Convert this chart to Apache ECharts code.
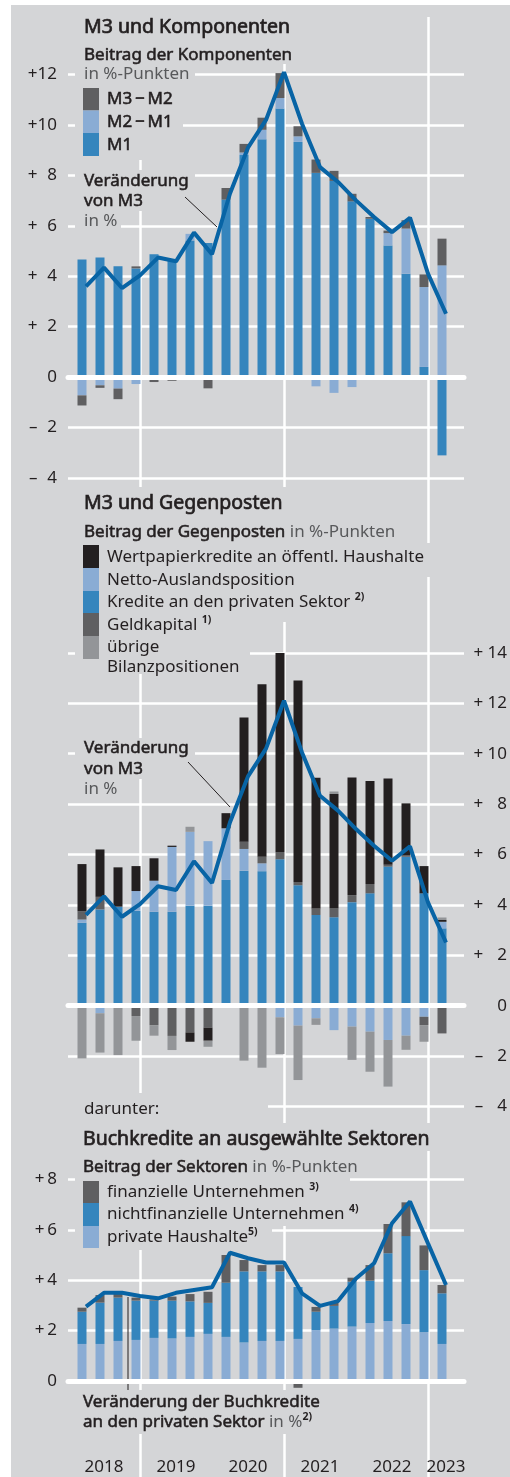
<!DOCTYPE html>
<html><head><meta charset="utf-8">
<script src="https://cdn.jsdelivr.net/npm/echarts@6/dist/echarts.min.js"></script>
<style>
html,body{margin:0;padding:0;background:#fff;}
#bg{position:absolute;left:11px;top:5px;width:499px;height:1472px;background:#d4d5d7;}
#chart{position:absolute;left:0;top:0;width:510px;height:1477px;}
</style></head><body>
<div id="bg"></div><div id="chart"></div>
<script>
// ---------- data (quarterly, 2018 Q1 .. 2023 Q1) ----------
const quarters = ['2018 Q1','2018 Q2','2018 Q3','2018 Q4','2019 Q1','2019 Q2','2019 Q3','2019 Q4',
  '2020 Q1','2020 Q2','2020 Q3','2020 Q4','2021 Q1','2021 Q2','2021 Q3','2021 Q4',
  '2022 Q1','2022 Q2','2022 Q3','2022 Q4','2023 Q1'];
const years = ['2018','2019','2020','2021','2022','2023'];

// Panel 1: M3 und Komponenten
const m1   = [4.66,4.74,4.39,4.31,4.87,4.63,5.42,5.32,7.04,8.81,9.43,10.65,9.33,8.10,7.78,6.97,6.28,5.22,4.10,0.40,-3.11];
const m2m1 = [-0.73,-0.33,-0.46,-0.28,-0.05,0,0.26,0,0,0.10,0.38,0.42,0.22,-0.37,-0.63,-0.40,0,0.49,1.79,3.17,4.43];
const m3m2 = [-0.40,-0.10,-0.42,0.08,-0.15,-0.15,0,-0.45,0.46,0.34,0.48,0.99,0.40,0.53,0.40,0.30,0.07,0.10,0.33,0.50,1.06];
const m3   = [3.60,4.34,3.53,4.03,4.74,4.59,5.73,4.87,7.28,9.10,10.20,12.10,10.05,8.33,7.74,7.01,6.35,5.75,6.32,4.10,2.51];

// Panel 2: M3 und Gegenposten
const kredite     = [3.29,3.82,3.93,3.77,3.73,3.73,3.97,3.97,4.99,5.36,5.34,5.81,4.78,3.60,3.51,4.11,4.46,5.52,5.91,4.46,3.07];
const netto       = [0.13,-0.30,0,0.78,1.23,2.57,2.93,2.56,2.05,0.86,0.31,-0.46,-0.79,-0.50,-0.97,-0.83,-1.03,-1.36,-1.19,-0.44,0.26];
const geldkapital = [0.33,0.50,0,-0.41,-0.77,-1.20,-1.06,-0.87,0,0.29,0.26,0.29,0.13,0.26,0.36,0.28,0.37,0.07,0.07,-0.33,-1.10];
const wertpapier  = [1.87,1.88,1.56,0.99,0.89,0.05,-0.37,-0.52,0.60,4.93,6.85,7.90,7.99,5.19,4.53,4.67,4.09,3.43,2.05,1.08,0.07];
const uebrige     = [-2.09,-1.56,-1.96,-0.98,-0.42,-0.56,0.20,-0.24,-0.05,-2.18,-2.46,-1.46,-2.16,-0.26,0.10,-1.32,-1.59,-1.85,-0.56,-0.66,0.10];

// Panel 3: Buchkredite an ausgewählte Sektoren
const haushalte   = [1.47,1.47,1.59,1.63,1.71,1.69,1.75,1.87,1.75,1.53,1.59,1.59,1.67,2.02,2.08,2.16,2.30,2.38,2.26,1.94,1.47];
const nichtfin    = [1.28,1.64,1.72,1.56,1.48,1.50,1.41,1.23,2.15,2.82,2.76,2.76,2.06,0.73,0.90,1.78,1.68,2.69,3.49,2.46,2.01];
const finanz      = [0.16,0.30,0.17,0.12,0.05,0.16,0.29,0.44,1.10,0.45,0.25,0.25,-0.27,0.19,0.15,0.16,0.62,1.16,1.34,0.98,0.33];
const buchkredite = [2.95,3.50,3.50,3.37,3.28,3.50,3.61,3.72,5.09,4.87,4.70,4.70,3.48,2.98,3.17,4.07,4.67,6.26,7.12,5.46,3.81];

// ---------- style ----------
const BG = '#d4d5d7', DARK = '#231f20', GTXT = '#58595b';
const C_BLUE = '#3585bd', C_LBLUE = '#8aacd4', C_DGRAY = '#5f5f61', C_BLACK = '#231f20', C_GRAY = '#939598', C_LINE = '#0864a5';
const FONT = "'Noto Sans', 'DejaVu Sans', sans-serif";
const WHITE = '#ffffff';

// panel layout: top of plot and height (y ranges -4..14, -4..14, 0..8 at 25.2 px per unit)
const PANELS = [
  { top: 24.2, height: 453.6, min: -4, max: 14 },
  { top: 652.9, height: 453.6, min: -4, max: 14 },
  { top: 1179.4, height: 201.6, min: 0, max: 8 }
];

function barS(name, vals, color, stack, p) {
  return { type: 'bar', name, stack, xAxisIndex: 3 + p, yAxisIndex: 3 + p, barWidth: 9, clip: false, silent: true,
    itemStyle: { color }, z: 2, data: vals.slice() };
}
function lineS(name, vals, p) {
  return { type: 'line', name, xAxisIndex: p, yAxisIndex: p, clip: false, silent: true, symbol: 'none', z: 8,
    lineStyle: { color: C_LINE, width: 4 }, data: vals.map((v, i) => [i + 1, v]) };
}
function fmt(v, gap, pad, hideMax) {
  if (hideMax !== undefined && v === hideMax) return '';
  if (v === 0) return '0';
  const a = Math.abs(v);
  return (v > 0 ? '+' : '\u2013') + gap + (pad && a < 10 ? '\u2007' : '') + a;
}
const labelStyle = { color: DARK, fontSize: 17, fontFamily: FONT };
const ySplit = { show: true, lineStyle: { color: WHITE, width: 2.5 } };

const grids = [];
PANELS.forEach(P => grids.push({ left: 68, width: 396, top: P.top, height: P.height }));   // 0-2 main
PANELS.forEach(P => grids.push({ left: 73, width: 378, top: P.top, height: P.height }));   // 3-5 bars
grids.push({ left: -4, top: 17, width: 576, height: 1460 });   // 6 full-height year lines
grids.push({ left: 68, top: 1438, width: 396, height: 39 });   // 7 quarter ticks + year labels
grids.push({ left: -4, top: 1438, width: 432, height: 39 });   // 8 year-boundary ticks
grids.forEach(g => { g.containLabel = false; g.outerBoundsMode = 'none'; });

const xAxes = [];
[0, 1, 2].forEach(p => xAxes.push({ gridIndex: p, type: 'value', min: 0, max: 22, z: 6,
  axisLine: { show: true, onZero: true, lineStyle: { color: WHITE, width: 5 } },
  axisTick: { show: false }, axisLabel: { show: false }, splitLine: { show: false } }));
[0, 1, 2].forEach(p => xAxes.push({ gridIndex: 3 + p, type: 'category', data: quarters, boundaryGap: true, show: false }));
xAxes.push({ gridIndex: 6, type: 'value', min: -4, max: 28, interval: 8, axisLine: { show: false }, axisTick: { show: false },
  axisLabel: { show: false }, splitLine: { show: true, lineStyle: { color: WHITE, width: 2.5 } } });
xAxes.push({ gridIndex: 7, type: 'value', position: 'top', min: 0, max: 22, interval: 1, axisLine: { show: false },
  axisTick: { show: true, inside: true, length: 17, lineStyle: { color: WHITE, width: 2.5 } },
  splitLine: { show: false },
  axisLabel: Object.assign({ show: true, inside: true, margin: 21, hideOverlap: false,
    formatter: v => (v % 4 === 2 && v <= 18) ? years[(v - 2) / 4] : (v === 21 ? years[5] : '') }, labelStyle) });
xAxes.push({ gridIndex: 8, type: 'value', position: 'top', min: -4, max: 20, interval: 4, axisLine: { show: false },
  axisTick: { show: true, inside: true, length: 39, lineStyle: { color: WHITE, width: 2.5 } },
  axisLabel: { show: false }, splitLine: { show: false } });

const yAxes = [
  { gridIndex: 0, type: 'value', min: -4, max: 14, interval: 2, position: 'left',
    axisLine: { show: false }, axisTick: { show: false },
    splitLine: Object.assign({ showMaxLine: false }, ySplit),
    axisLabel: Object.assign({ margin: 11, formatter: v => fmt(v, '', true, 14) }, labelStyle) },
  { gridIndex: 1, type: 'value', min: -4, max: 14, interval: 2, position: 'right',
    axisLine: { show: false }, axisTick: { show: false }, splitLine: ySplit,
    axisLabel: Object.assign({ margin: 43, align: 'right', formatter: v => fmt(v, ' ', true) }, labelStyle) },
  { gridIndex: 2, type: 'value', min: 0, max: 8, interval: 2, position: 'left',
    axisLine: { show: false }, axisTick: { show: false }, splitLine: ySplit,
    axisLabel: Object.assign({ margin: 11, formatter: v => fmt(v, '\u2009', false) }, labelStyle) }
];
PANELS.forEach((P, p) => yAxes.push({ gridIndex: 3 + p, type: 'value', min: P.min, max: P.max, show: false, splitLine: { show: false } }));
[6, 7, 8].forEach(gi => yAxes.push({ gridIndex: gi, type: 'value', min: 0, max: 1, show: false, splitLine: { show: false } }));

const series = [
  barS('M1', m1, C_BLUE, 'p1', 0), barS('M2 − M1', m2m1, C_LBLUE, 'p1', 0), barS('M3 − M2', m3m2, C_DGRAY, 'p1', 0),
  lineS('Veränderung von M3', m3, 0),
  barS('Kredite an den privaten Sektor', kredite, C_BLUE, 'p2', 1),
  barS('Netto-Auslandsposition', netto, C_LBLUE, 'p2', 1),
  barS('Geldkapital', geldkapital, C_DGRAY, 'p2', 1),
  barS('Wertpapierkredite an öffentl. Haushalte', wertpapier, C_BLACK, 'p2', 1),
  barS('übrige Bilanzpositionen', uebrige, C_GRAY, 'p2', 1),
  lineS('Veränderung von M3 (Gegenposten)', m3, 1),
  barS('private Haushalte', haushalte, C_LBLUE, 'p3', 2),
  barS('nichtfinanzielle Unternehmen', nichtfin, C_BLUE, 'p3', 2),
  barS('finanzielle Unternehmen', finanz, C_DGRAY, 'p3', 2),
  lineS('Veränderung der Buchkredite', buchkredite, 2)
];

// ---------- annotations (titles, legends, leader lines) ----------
const G = [];
function box(x, y, w, h) { G.push({ type: 'rect', z: 1, silent: true, shape: { x, y, width: w, height: h }, style: { fill: BG } }); }
function sw(y0, y1, color) { G.push({ type: 'rect', z: 3, silent: true, shape: { x: 83, y: y0, width: 16, height: y1 - y0 }, style: { fill: color } }); }
const RICH = {
  d: { fill: DARK, fontSize: 17, fontFamily: FONT },
  g: { fill: GTXT, fontSize: 17, fontFamily: FONT },
  b: { fill: DARK, fontSize: 17, fontFamily: FONT, stroke: DARK, lineWidth: 0.55 },
  t: { fill: DARK, fontSize: 19.5, fontFamily: FONT, stroke: DARK, lineWidth: 0.7 },
  s: { fill: DARK, fontSize: 10.5, fontFamily: FONT, fontWeight: 'bold', verticalAlign: 'top', lineHeight: 20 }
};
function tx(x, y, text) {
  G.push({ type: 'text', z: 4, silent: true, x, y,
    style: { text, rich: RICH, verticalAlign: 'middle', align: 'left', fill: DARK, fontSize: 17, fontFamily: FONT } });
}
function ln(x1, y1, x2, y2) { G.push({ type: 'line', z: 4, silent: true, shape: { x1, y1, x2, y2 }, style: { stroke: DARK, lineWidth: 1 } }); }

// panel 1
box(75, 10, 228, 28); box(75, 38, 228, 26); box(75, 64, 120, 20); box(75, 84, 108, 76);
box(75, 170, 120, 22); box(75, 192, 76, 19); box(75, 211, 46, 21);
tx(84, 27, '{t|M3 und Komponenten}');
tx(84, 55, '{b|Beitrag der Komponenten}');
tx(84, 74, '{g|in %-Punkten}');
sw(88, 110.5, C_DGRAY); sw(110.5, 133, C_LBLUE); sw(133, 156, C_BLUE);
tx(107, 99, '{b|M3\u2009\u2212\u2009M2}'); tx(107, 122, '{b|M2\u2009\u2212\u2009M1}'); tx(107, 145, '{b|M1}');
tx(84, 181, '{b|Veränderung}'); tx(84, 201, '{b|von M3}'); tx(84, 221, '{g|in %}');
ln(185, 197, 217, 227);

// panel 2
box(75, 487, 225, 31); box(75, 518, 325, 25); box(75, 543, 365, 34); box(75, 577, 305, 45); box(75, 622, 175, 52);
box(75, 738, 120, 21); box(75, 759, 76, 20); box(75, 779, 46, 20);
tx(84, 503, '{t|M3 und Gegenposten}');
tx(84, 532, '{b|Beitrag der Gegenposten} {g|in %-Punkten}');
sw(545, 568, C_BLACK); sw(568, 591, C_LBLUE); sw(591, 613, C_BLUE); sw(613, 636, C_DGRAY); sw(636, 659, C_GRAY);
tx(107, 557, '{d|Wertpapierkredite an öffentl. Haushalte}');
tx(107, 580, '{d|Netto-Auslandsposition}');
tx(107, 602, '{d|Kredite an den privaten Sektor }{s|2)}');
tx(107, 625, '{d|Geldkapital }{s|1)}');
tx(107, 647, '{d|übrige}');
tx(107, 667, '{d|Bilanzpositionen}');
tx(84, 748, '{b|Veränderung}'); tx(84, 769, '{b|von M3}'); tx(84, 789, '{g|in %}');
ln(188, 762, 230, 807);

// panel 3
box(68, 1093, 200, 30); box(75, 1123, 370, 28); box(75, 1151, 290, 27);
box(75, 1178, 275, 25); box(75, 1203, 290, 23); box(75, 1226, 197, 24); box(75, 1390, 255, 44);
tx(84, 1109, '{d|darunter:}');
tx(83, 1139, '{t|Buchkredite an ausgewählte Sektoren}');
tx(83, 1167, '{b|Beitrag der Sektoren} {g|in %-Punkten}');
sw(1181, 1203, C_DGRAY); sw(1203, 1226, C_BLUE); sw(1226, 1248, C_LBLUE);
tx(107, 1192, '{d|finanzielle Unternehmen }{s|3)}');
tx(107, 1214, '{d|nichtfinanzielle Unternehmen }{s|4)}');
tx(107, 1237, '{d|private Haushalte}{s|5)}');
tx(83, 1402, '{b|Veränderung der Buchkredite}');
tx(83, 1422, '{b|an den privaten Sektor} {g|in %}{s|2)}');
ln(128, 1297, 128, 1390);

const chart = echarts.init(document.getElementById('chart'), null, { renderer: 'canvas' });
chart.setOption({
  backgroundColor: 'transparent',
  animation: false,
  textStyle: { fontFamily: FONT },
  grid: grids, xAxis: xAxes, yAxis: yAxes, series,
  graphic: { elements: G }
});
</script></body></html>
